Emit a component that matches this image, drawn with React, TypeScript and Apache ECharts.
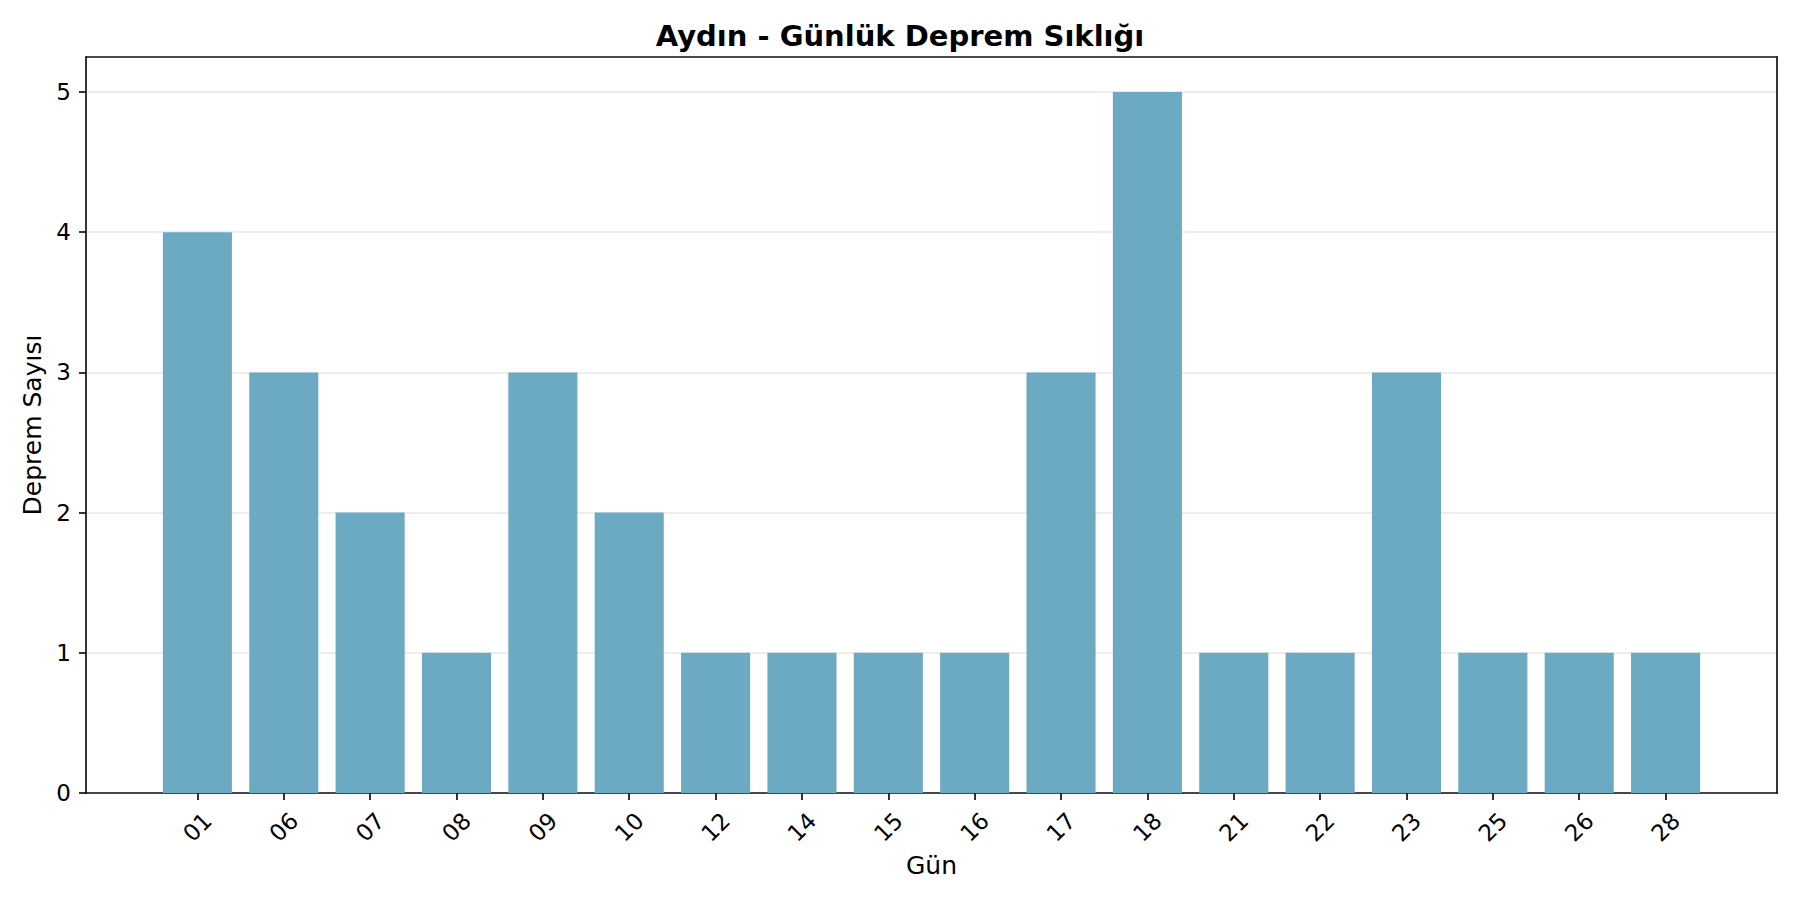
import React, { useEffect, useRef } from "react"
import * as echarts from "echarts"

const days = ["01", "06", "07", "08", "09", "10", "12", "14", "15", "16", "17", "18", "21", "22", "23", "25", "26", "28"]
const counts = [4, 3, 2, 1, 3, 2, 1, 1, 1, 1, 3, 5, 1, 1, 3, 1, 1, 1]
const yTicks = [0, 1, 2, 3, 4, 5]

const FONT = "DejaVu Sans"
const GRID = { left: 86, right: 23, top: 57, bottom: 107 }
const LINE = { color: "#111", width: 1.7 }
// matplotlib margins: bars span -0.4..n-0.6, plus 5% on each side
const span = days.length - 1 + 0.8
const xMin = -0.4 - span * 0.05
const xMax = days.length - 1 + 0.4 + span * 0.05
const yMax = 5.25

const App: React.FC = () => {
  const ref = useRef<HTMLDivElement>(null)

  useEffect(() => {
    document.body.style.margin = "0"
    const el = ref.current
    if (!el) return
    const chart = echarts.init(el, undefined, { renderer: "svg" })
    const plotWidth = 1800 - GRID.left - GRID.right
    const barWidth = (plotWidth / (xMax - xMin)) * 0.8
    const indices = days.map((_, i) => i)

    // top and right spines only
    const spine = {
      type: "value",
      axisLine: { show: true, onZero: false, lineStyle: LINE },
      axisTick: { show: false },
      axisLabel: { show: false },
      splitLine: { show: false },
    }

    chart.setOption({
      animation: false,
      backgroundColor: "#ffffff",
      textStyle: { fontFamily: FONT },
      title: {
        text: "Aydın - Günlük Deprem Sıklığı",
        left: "center",
        top: 14,
        textStyle: { fontFamily: FONT, fontSize: 29, fontWeight: "bold", color: "#000", lineHeight: 34 },
      },
      grid: { ...GRID },
      xAxis: [
        {
          type: "value",
          min: xMin,
          max: xMax,
          name: "Gün",
          nameLocation: "middle",
          nameGap: 45,
          nameTextStyle: { fontFamily: FONT, fontSize: 25, color: "#000" },
          axisLine: { show: true, onZero: false, lineStyle: LINE },
          axisTick: { show: true, customValues: indices, length: 7, lineStyle: LINE },
          axisLabel: {
            customValues: indices,
            formatter: (v: number) => days[Math.round(v)] ?? "",
            rotate: 45,
            align: "center",
            verticalAlign: "middle",
            margin: 34,
            fontFamily: FONT,
            fontSize: 23,
            color: "#000",
          },
          splitLine: { show: false },
        },
        { ...spine, position: "top", min: xMin, max: xMax },
      ],
      yAxis: [
        {
          type: "value",
          min: 0,
          max: yMax,
          interval: 1,
          name: "Deprem Sayısı",
          nameLocation: "middle",
          nameGap: 34,
          nameTextStyle: { fontFamily: FONT, fontSize: 25, color: "#000" },
          axisLine: { show: true, onZero: false, lineStyle: LINE },
          axisTick: { show: true, customValues: yTicks, length: 7, lineStyle: LINE },
          axisLabel: {
            customValues: yTicks,
            margin: 15,
            fontFamily: FONT,
            fontSize: 23,
            color: "#000",
          },
          splitLine: { show: true, lineStyle: { color: "#e7e7e7", width: 1.6 } },
        },
        { ...spine, position: "right", min: 0, max: yMax },
      ],
      series: [
        {
          type: "bar",
          data: counts.map((c, i) => [i, c]),
          barWidth,
          itemStyle: { color: "#6caac4" },
        },
      ],
    })

    return () => chart.dispose()
  }, [])

  return <div ref={ref} style={{ width: "1800px", height: "900px" }} />
}

export default App
